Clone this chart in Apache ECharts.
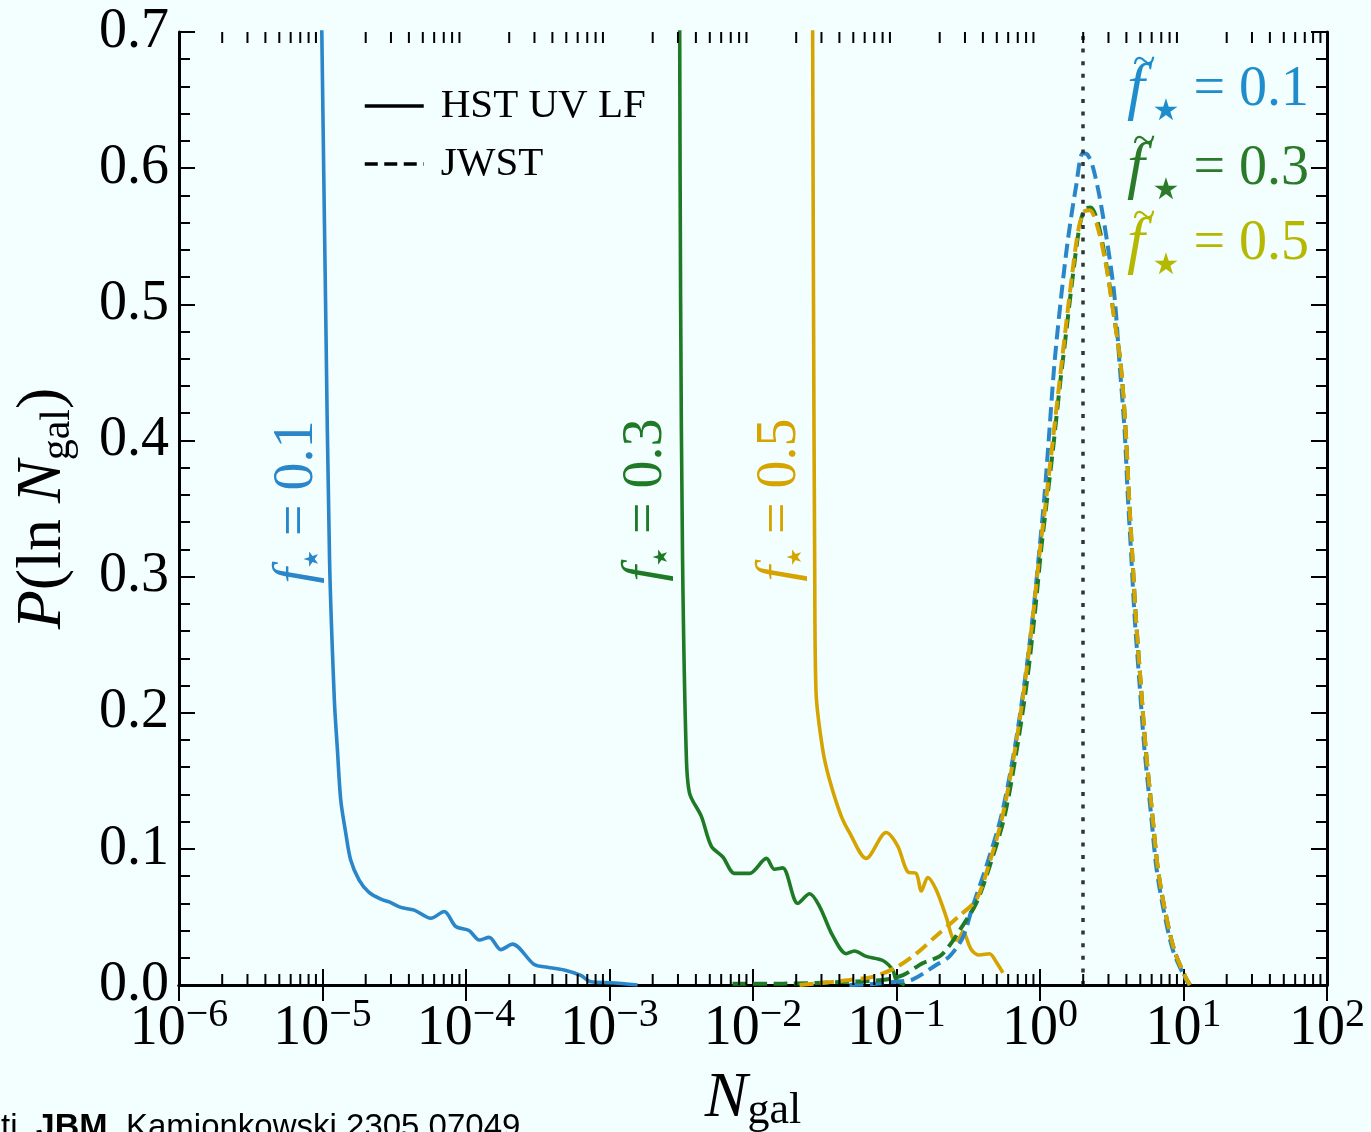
<!DOCTYPE html>
<html lang="en">
<head>
<meta charset="UTF-8">
<title>P(ln N_gal)</title>
<script src="https://cdn.jsdelivr.net/npm/echarts@6/dist/echarts.min.js"></script>
<style>
    html, body { margin: 0; padding: 0; background: #f3fefe; }
    #fig { width: 1371px; height: 1132px; }
</style>
</head>
<body>
<div id="fig"></div>
<script>
    const SERIF = 'Liberation Serif';
    const BLUE = '#2a86c8', GREEN = '#1f7a26', GOLD = '#d6a400', OLIVE = '#b4b800';

    // axis ranges / ticks
    const xMin = 1e-6, xMax = 1e2;
    const yMin = 0, yMax = 0.7;
    const decades = [-6, -5, -4, -3, -2, -1, 0, 1];
    const minorSteps = [2, 3, 4, 5, 6, 7, 8, 9];
    const vlineN = 2;

    // HST UV LF (solid), [N_gal, P]
    const hstBlue = [[9.83e-6,0.72],[1.05e-5,0.503],[1.12e-5,0.312],[1.21e-5,0.209],[1.27e-5,0.173],[1.34e-5,0.136],
        [1.45e-5,0.112],[1.57e-5,0.092],[1.80e-5,0.077],[2.11e-5,0.068],[2.55e-5,0.063],[2.92e-5,0.061],[3.52e-5,0.057],
        [4.36e-5,0.055],[5.69e-5,0.049],[7.05e-5,0.054],[8.49e-5,0.043],[1.05e-4,0.040],[1.24e-4,0.033],[1.45e-4,0.035],
        [1.75e-4,0.026],[2.11e-4,0.030],[2.99e-4,0.015],[3.70e-4,0.013],[4.83e-4,0.011],[6.31e-4,0.007],[7.41e-4,0.0024],
        [1.02e-3,0.0017],[1.57e-3,0.0]];
    const hstGreen = [[3.08e-3,0.72],[3.13e-3,0.503],[3.23e-3,0.312],[3.42e-3,0.173],[3.61e-3,0.141],[4.36e-3,0.124],
        [5.12e-3,0.102],[6.17e-3,0.094],[7.43e-3,0.082],[9.46e-3,0.082],[1.24e-2,0.093],[1.41e-2,0.085],[1.61e-2,0.086],
        [2.05e-2,0.060],[2.48e-2,0.067],[2.90e-2,0.058],[3.60e-2,0.036],[4.46e-2,0.023],[5.09e-2,0.025],[6.15e-2,0.021],
        [8.02e-2,0.018],[9.42e-2,0.011],[9.95e-2,0.0037],[0.114,0]];
    const hstGold = [[2.60e-2,0.72],[2.64e-2,0.503],[2.69e-2,0.312],[2.75e-2,0.215],[3.06e-2,0.173],[3.41e-2,0.151],
        [4.12e-2,0.124],[4.70e-2,0.112],[6.15e-2,0.093],[8.47e-2,0.112],[0.102,0.102],[0.120,0.083],[0.137,0.082],
        [0.149,0.069],[0.165,0.079],[0.189,0.070],[0.222,0.050],[0.247,0.034],[0.267,0.033],[0.290,0.039],[0.332,0.026],
        [0.378,0.022],[0.445,0.023],[0.495,0.017],[0.551,0.009]];

    // JWST (dashed)
    const jwstBlue = [[0.047,0],[0.0649,0.0005],[0.0995,0.0024],[0.130,0.0042],[0.189,0.0147],[0.234,0.021],[0.290,0.035],
        [0.340,0.058],[0.422,0.087],[0.537,0.124],[0.664,0.173],[0.780,0.222],[0.891,0.271],[0.991,0.320],[1.074,0.359],
        [1.164,0.408],[1.262,0.457],[1.406,0.506],[1.563,0.547],[1.786,0.587],[1.986,0.611],[2.14,0.610],[2.333,0.601],
        [2.600,0.579],[2.965,0.543],[3.304,0.506],[3.581,0.457],[3.882,0.408],[4.093,0.359],[4.325,0.315],[4.560,0.271],
        [4.932,0.222],[5.346,0.173],[5.957,0.124],[6.457,0.087],[7.178,0.058],[8.414,0.026],[10.16,0.006],[11.02,0]];
    const jwstGreen = [[0.0072,0.001],[0.0161,0.001],[0.047,0.0024],[0.0802,0.0037],[0.111,0.0073],[0.152,0.016],
        [0.1995,0.021],[0.234,0.029],[0.275,0.040],[0.359,0.060],[0.445,0.087],[0.566,0.124],[0.689,0.173],[0.809,0.222],
        [0.916,0.271],[1.019,0.320],[1.10,0.350],[1.227,0.392],[1.368,0.438],[1.524,0.480],[1.694,0.521],[1.884,0.557],
        [2.05,0.570],[2.25,0.571],[2.529,0.560],[2.891,0.530],[3.214,0.498],[3.64,0.457],[3.95,0.408],[4.17,0.359],
        [4.40,0.315],[4.65,0.271],[5.03,0.222],[5.46,0.173],[6.08,0.124],[6.60,0.087],[7.33,0.058],[8.60,0.026],
        [10.3,0.006],[11.1,0]];
    const jwstGold = [[0.0211,0],[0.0275,0.001],[0.047,0.0037],[0.0684,0.006],[0.0995,0.013],[0.137,0.023],[0.189,0.036],
        [0.275,0.051],[0.359,0.0625],[0.445,0.090],[0.548,0.124],[0.670,0.173],[0.785,0.222],[0.893,0.271],[1.0,0.320],
        [1.09,0.352],[1.21,0.394],[1.35,0.438],[1.50,0.480],[1.67,0.521],[1.86,0.556],[2.03,0.568],[2.22,0.569],
        [2.50,0.558],[2.87,0.530],[3.20,0.498],[3.64,0.457],[3.95,0.408],[4.17,0.359],[4.40,0.315],[4.65,0.271],
        [5.03,0.222],[5.46,0.173],[6.08,0.124],[6.60,0.087],[7.33,0.058],[8.60,0.026],[10.3,0.006],[11.1,0]];

    // minor ticks of the log axis: 2..9 x 10^n
    let minorX = [];
    decades.forEach(function (e) {
        minorSteps.forEach(function (k) { minorX.push(k * Math.pow(10, e)); });
    });

    function decadeLabel (v) {
        let e = Math.round(Math.log10(v));
        let s = e < 0 ? '\u2212' + (-e) : '' + e;
        return '{b|10}{e|' + s + '}';
    }

    function line (name, data, color, dashed) {
        return {
            name: name,
            type: 'line',
            data: data,
            symbol: 'none',
            smooth: 0.3,
            silent: true,
            lineStyle: { color: color, width: dashed ? 4 : 3.6, type: dashed ? [14, 6.5] : 'solid' },
            itemStyle: { color: color },
            z: dashed ? 3 : 2
        };
    }

    let axisLineStyle = { color: '#000', width: 3 };
    let tickStyle = { color: '#000', width: 2 };

    let jb = line('jwst01', jwstBlue, BLUE, true);
    jb.markLine = {
        silent: true,
        symbol: ['none', 'none'],
        label: { show: false },
        lineStyle: { color: '#333', width: 3.5, type: [4, 8.6] },
        data: [{ xAxis: vlineN }]
    };

    let option = {
        animation: false,
        backgroundColor: '#f3fefe',
        grid: { left: 179, right: 44, top: 32, bottom: 147, outerBoundsMode: 'none', containLabel: false },
        legend: {
            data: ['HST UV LF', 'JWST'],
            orient: 'vertical',
            left: 363,
            top: 84,
            padding: 0,
            itemWidth: 59,
            itemHeight: 10,
            itemGap: 14,
            selectedMode: false,
            itemStyle: { opacity: 0 },
            lineStyle: { width: 3.5 },
            textStyle: { fontFamily: SERIF, fontSize: 41, lineHeight: 44, color: '#000', padding: [0, 0, 0, 12] }
        },
        xAxis: [{
            type: 'log',
            logBase: 10,
            min: xMin,
            max: xMax,
            interval: 1,
            position: 'bottom',
            axisLine: { lineStyle: axisLineStyle },
            axisTick: { inside: true, length: 16, lineStyle: tickStyle },
            splitLine: { show: false },
            axisLabel: {
                margin: 12,
                formatter: decadeLabel,
                rich: {
                    b: { fontFamily: SERIF, fontSize: 56, lineHeight: 60, verticalAlign: 'bottom', color: '#000' },
                    e: { fontFamily: SERIF, fontSize: 40, lineHeight: 40, padding: [0, 0, 24, 0], color: '#000' }
                }
            },
            name: '{n|N}{s|gal}',
            nameLocation: 'middle',
            nameGap: 66,
            nameTextStyle: {
                rich: {
                    n: { fontFamily: SERIF, fontStyle: 'italic', fontSize: 64, lineHeight: 64, verticalAlign: 'top', color: '#000' },
                    s: { fontFamily: SERIF, fontSize: 44, lineHeight: 44, padding: [26, 0, 0, 0], color: '#000' }
                }
            }
        }, {
            type: 'log',
            logBase: 10,
            min: xMin,
            max: xMax,
            interval: 1,
            position: 'top',
            axisLine: { lineStyle: axisLineStyle },
            axisTick: { inside: true, length: 16, lineStyle: tickStyle },
            axisLabel: { show: false },
            splitLine: { show: false }
        }],
        yAxis: [{
            type: 'value',
            min: yMin,
            max: yMax,
            interval: 0.1,
            axisLine: { lineStyle: axisLineStyle },
            axisTick: { inside: true, length: 16, lineStyle: tickStyle },
            minorTick: { show: true, splitNumber: 5, length: 11, lineStyle: tickStyle },
            splitLine: { show: false },
            axisLabel: {
                margin: 10,
                fontFamily: SERIF,
                fontSize: 56,
                color: '#000',
                formatter: function (v) { return v.toFixed(1); }
            },
            name: '{i|P}{r|(ln }{i|N}{s|gal}{r|)}',
            nameLocation: 'middle',
            nameRotate: 90,
            nameGap: 102,
            nameTextStyle: {
                rich: {
                    i: { fontFamily: SERIF, fontStyle: 'italic', fontSize: 64, lineHeight: 66, verticalAlign: 'top', color: '#000' },
                    r: { fontFamily: SERIF, fontSize: 64, lineHeight: 66, verticalAlign: 'top', color: '#000' },
                    s: { fontFamily: SERIF, fontSize: 42, lineHeight: 42, padding: [28, 0, 0, 0], color: '#000' }
                }
            }
        }, {
            type: 'value',
            min: yMin,
            max: yMax,
            interval: 0.1,
            position: 'right',
            axisLine: { lineStyle: axisLineStyle },
            axisTick: { inside: true, length: 16, lineStyle: tickStyle },
            minorTick: { show: true, splitNumber: 5, length: 11, lineStyle: tickStyle },
            splitLine: { show: false },
            axisLabel: { show: false }
        }],
        series: [
            line('hst01', hstBlue, BLUE, false),
            line('hst03', hstGreen, GREEN, false),
            line('hst05', hstGold, GOLD, false),
            jb,
            line('jwst03', jwstGreen, GREEN, true),
            line('jwst05', jwstGold, GOLD, true),
            // legend keys only
            { name: 'HST UV LF', type: 'line', data: [], symbol: 'none', lineStyle: { color: '#000', width: 3.5 }, itemStyle: { color: '#000' } },
            { name: 'JWST', type: 'line', data: [], symbol: 'none', lineStyle: { color: '#000', width: 3.5, type: [13, 6.5] }, itemStyle: { color: '#000' } },
            {
                type: 'custom',
                silent: true,
                z: 10,
                data: minorX.map(function (v) { return [v, 0]; }),
                renderItem: function (params, api) {
                    let v = api.value(0);
                    let b = api.coord([v, yMin]);
                    let t = api.coord([v, yMax]);
                    let st = { stroke: '#000', lineWidth: 2 };
                    return {
                        type: 'group',
                        children: [
                            { type: 'line', shape: { x1: b[0], y1: b[1], x2: b[0], y2: b[1] - 11 }, style: st },
                            { type: 'line', shape: { x1: t[0], y1: t[1], x2: t[0], y2: t[1] + 11 }, style: st }
                        ]
                    };
                }
            }
        ],
        graphic: []
    };

    // rotated labels next to the solid curves
    function rotLabel (x, y, txt, color) {
        return {
            type: 'text', x: x, y: y, rotation: Math.PI / 2, silent: true,
            style: {
                text: '{f|f}{s|\u2605}{r| = ' + txt + '}',
                align: 'center', verticalAlign: 'middle', fill: color,
                rich: {
                    f: { fontFamily: SERIF, fontStyle: 'italic', fontSize: 56, lineHeight: 58, verticalAlign: 'top', fill: color },
                    s: { fontFamily: 'DejaVu Sans', fontSize: 20, lineHeight: 20, padding: [30, 0, 0, 0], fill: color },
                    r: { fontFamily: SERIF, fontSize: 56, lineHeight: 58, verticalAlign: 'top', fill: color }
                }
            }
        };
    }

    // f-tilde labels at the top right
    function tildeLabel (y, txt, color) {
        return [
            { type: 'text', x: 1127, y: y, silent: true,
              style: { text: 'f', fontFamily: SERIF, fontStyle: 'italic', fontSize: 64, fill: color, align: 'left', verticalAlign: 'middle' } },
            { type: 'text', x: 1144, y: y - 27, silent: true,
              style: { text: '~', fontFamily: SERIF, fontSize: 42, fill: color, align: 'center', verticalAlign: 'middle' } },
            { type: 'text', x: 1166, y: y + 22, silent: true,
              style: { text: '\u2605', fontFamily: 'DejaVu Sans', fontSize: 30, fill: color, align: 'center', verticalAlign: 'middle' } },
            { type: 'text', x: 1309, y: y, silent: true,
              style: { text: '= ' + txt, fontFamily: SERIF, fontSize: 56, fill: color, align: 'right', verticalAlign: 'middle' } }
        ];
    }

    option.graphic.push(rotLabel(298, 502, '0.1', BLUE));
    option.graphic.push(rotLabel(647, 500, '0.3', GREEN));
    option.graphic.push(rotLabel(781, 500, '0.5', GOLD));
    option.graphic = option.graphic
        .concat(tildeLabel(90, '0.1', '#1f8dcb'))
        .concat(tildeLabel(169, '0.3', '#2a7a2a'))
        .concat(tildeLabel(244, '0.5', OLIVE));

    // credit line, cut at the page edge
    option.graphic.push({
        type: 'text', x: 1, y: 1145, silent: true,
        style: {
            text: '{a|ti, }{b|JBM}{a|, Kamionkowski 2305.07049}',
            align: 'left', verticalAlign: 'bottom',
            rich: {
                a: { fontFamily: 'Liberation Sans', fontSize: 33, fill: '#000' },
                b: { fontFamily: 'Liberation Sans', fontSize: 34, fontWeight: 'bold', fill: '#000' }
            }
        }
    });

    let fig = echarts.init(document.getElementById('fig'), null, { renderer: 'canvas' });
    fig.setOption(option);
</script>
</body>
</html>
